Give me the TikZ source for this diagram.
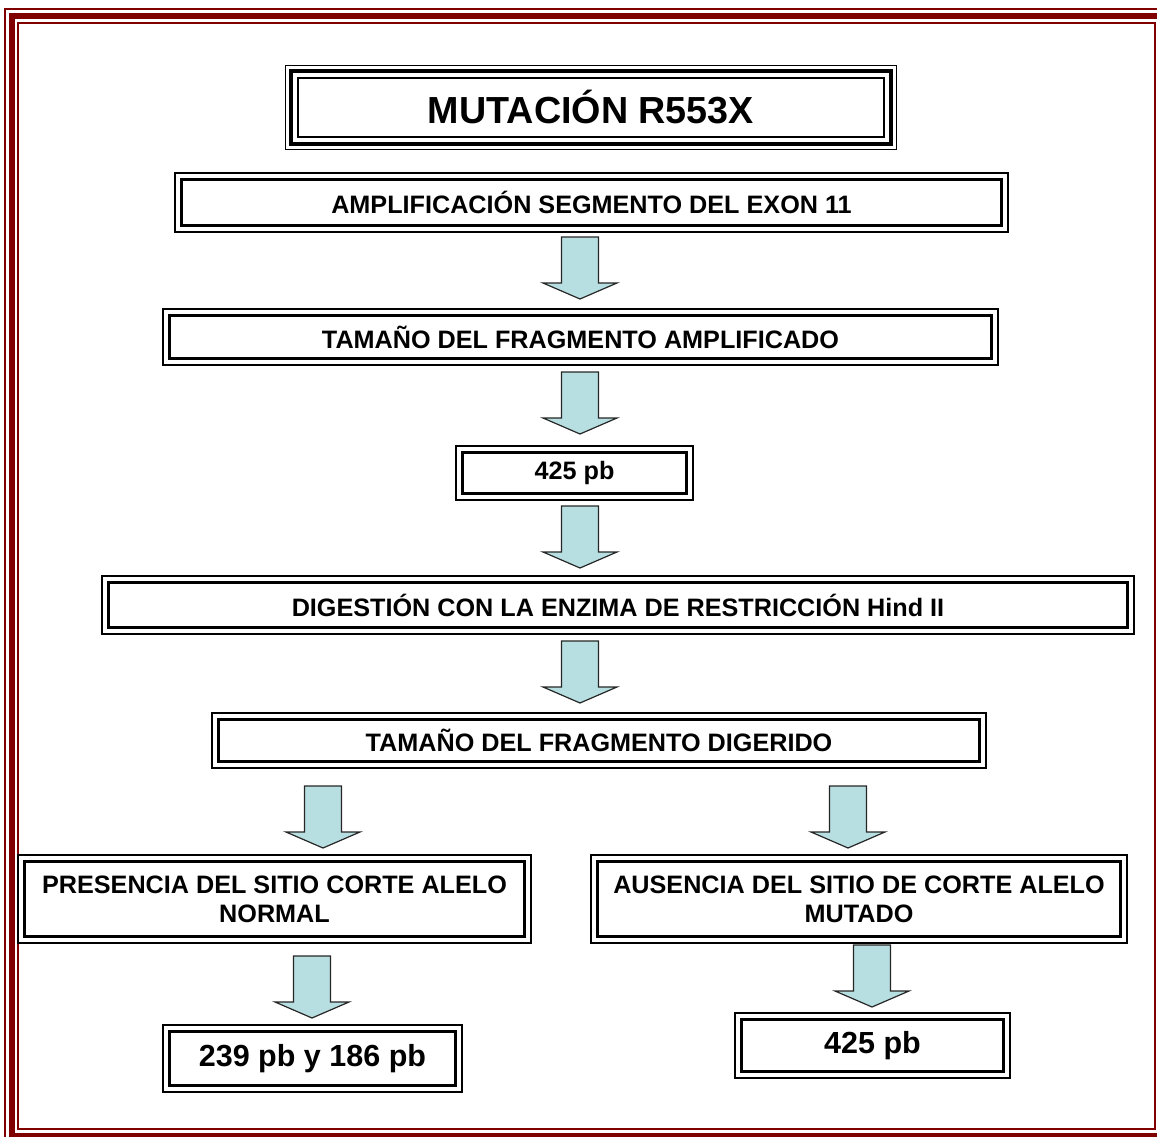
\documentclass[tikz,border=0pt]{standalone}
\usepackage{fontspec}
\setmainfont{Liberation Sans}
\usepackage{xcolor}
\usepackage{tikz}
\usetikzlibrary{calc,positioning}

\definecolor{framered}{RGB}{128,0,0}
\definecolor{arrowfill}{RGB}{183,222,224}

\begin{document}
\begin{tikzpicture}[
		x=1pt,y=-1pt,
		stepbox/.style={
			rectangle,
			draw=black,
			line width=3pt,
			outer sep=0pt,
			inner sep=0pt,
			align=center,
			font=\fontsize{25.2}{29}\selectfont\bfseries
		},
		bigtext/.style={
			font=\fontsize{30.5}{35}\selectfont\bfseries
		},
		titlebox/.style={
			rectangle,
			draw=black,
			line width=4.5pt,
			outer sep=0pt,
			inner sep=0pt,
			font=\fontsize{37.7}{42}\selectfont\bfseries
		},
		thinframe/.style={
			draw=black,
			line width=1.5pt
		},
		blockarrow/.style={
			draw=black!85,
			line width=1.2pt,
			fill=arrowfill,
			line join=miter
		},
		framerule/.style={
			draw=framered,
			line width=#1
		}
		]
		
		\useasboundingbox (0,0) rectangle (1157,1137);
		
		\draw[framerule=2pt] (5,9.5) rectangle (1168,1142);
		\draw[framerule=6pt] (12,16.5) rectangle (1161,1135.5);
		\draw[framerule=2pt] (18,23.5) rectangle (1155,1128.5);
		
		\node[titlebox, minimum width=600pt, minimum height=73pt] (title) at (591,107.5)
		{MUTACIÓN R553X};
		
		\node[stepbox, minimum width=820pt, minimum height=46pt] (amp) at (591.5,202.5)
		{AMPLIFICACIÓN SEGMENTO DEL EXON 11};
		
		\node[stepbox, minimum width=822pt, minimum height=43pt] (tam) at (580.5,337)
		{TAMAÑO DEL FRAGMENTO AMPLIFICADO};
		
		\node[stepbox, minimum width=224pt, minimum height=41pt] (n425) at (574.5,473)
		{425 pb};
		
		\node[stepbox, minimum width=1019pt, minimum height=45pt] (dig) at (618,605)
		{DIGESTIÓN CON LA ENZIMA DE RESTRICCIÓN Hind II};
		
		\node[stepbox, minimum width=761pt, minimum height=42pt] (tdig) at (599,740.5)
		{TAMAÑO DEL FRAGMENTO DIGERIDO};
		
		\node[stepbox, minimum width=500pt, minimum height=75pt] (pres) at (274.5,899)
		{PRESENCIA DEL SITIO CORTE ALELO\\NORMAL};
		
		\node[stepbox, minimum width=523pt, minimum height=75pt] (aus) at (859,899)
		{AUSENCIA DEL SITIO DE CORTE ALELO\\MUTADO};
		
		\node[stepbox, bigtext, minimum width=286pt, minimum height=54pt] (b239) at (312.5,1058.5)
		{239 pb y 186 pb};
		
		\node[stepbox, bigtext, minimum width=262pt, minimum height=52pt] (b425) at (872.5,1045.5)
		{425 pb};
		
		\draw[thinframe] ([shift={(-5.5,-5.5)}]title.north west) rectangle ([shift={(5.5,5.5)}]title.south east);
		\draw[thinframe] ([shift={(7,7)}]title.north west) rectangle ([shift={(-7,-7)}]title.south east);
		\foreach \n in {amp,tam,n425,dig,tdig,pres,aus,b239,b425}
		\draw[thinframe] ([shift={(-6.5,-6.5)}]\n.north west) rectangle ([shift={(6.5,6.5)}]\n.south east);
		
		\foreach \s/\dx/\dy in {amp/-11.5/11.5, tam/-0.5/13.5, n425/5.5/12.5, dig/-38/13.5,
			tdig/-276/24.5, tdig/249/24.5, pres/37.5/19.5, aus/13/8.5}
		\draw[blockarrow] ($(\s.south)+(\dx,\dy)$) ++(-18.5,0) -- ++(37,0) -- ++(0,46)
		-- ++(18.5,0) -- ++(-37,16) -- ++(-37,-16) -- ++(18.5,0) -- cycle;
		
	\end{tikzpicture}
\end{document}
